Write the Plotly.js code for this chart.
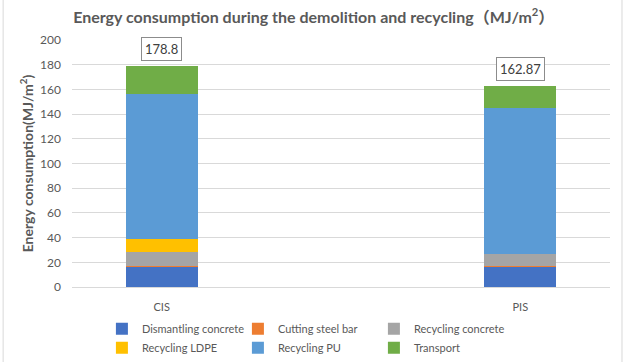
<!DOCTYPE html>
<html><head><meta charset="utf-8">
<script src="https://cdn.plot.ly/plotly-3.0.1.min.js"></script>
<style>html,body{margin:0;padding:0;background:#fff}#chart{width:636px;height:362px}</style>
</head><body><div id="chart"></div>
<script>
const categories = ["CIS", "PIS"];
const seriesNames = ["Dismantling concrete", "Cutting steel bar", "Recycling concrete", "Recycling LDPE", "Recycling PU", "Transport"];
const dismantlingConcrete = [16.5, 16.5];
const cuttingSteelBar = [0.3, 0.3];
const recyclingConcrete = [11.7, 9.7];
const recyclingLDPE = [10.0, 0];
const recyclingPU = [118.0, 118.4];
const transport = [22.3, 17.97];
const colors = ["#4472C4", "#ED7D31", "#A5A5A5", "#FFC000", "#5B9BD5", "#70AD47"];

const seriesValues = [dismantlingConcrete, cuttingSteelBar, recyclingConcrete, recyclingLDPE, recyclingPU, transport];
const font = "Lato, 'Noto Sans CJK SC', sans-serif";

const traces = seriesValues.map((vals, i) => ({
  type: "bar", name: seriesNames[i], x: categories, y: vals, width: 0.2,
  marker: {color: colors[i], line: {width: 0}}, hoverinfo: "skip"
}));

const totals = categories.map((c, j) => seriesValues.reduce((s, v) => s + v[j], 0));
const annotations = categories.map((c, j) => ({
  x: c, y: totals[j], xref: "x", yref: "y", yshift: 17,
  text: String(parseFloat(totals[j].toFixed(2))), showarrow: false,
  font: {family: font, size: 13, color: "#404040"},
  bordercolor: "#8c8c8c", borderwidth: 1, borderpad: 3, bgcolor: "#fff"
}));

const layout = {
  width: 636, height: 362,
  margin: {l: 72, r: 26, t: 40, b: 75, autoexpand: false},
  paper_bgcolor: "#fff", plot_bgcolor: "#fff",
  barmode: "stack",
  font: {family: font, color: "#595959", size: 11},
  title: {text: "Energy consumption during the demolition and recycling（MJ/m<sup>2</sup>）",
    font: {family: font, size: 16, color: "#595959", weight: "bold"},
    x: 0.115, xanchor: "left", xref: "container", y: 0.953, yanchor: "middle", yref: "container"},
  xaxis: {type: "category", range: [-0.25, 1.25], showline: true, linecolor: "#d9d9d9", linewidth: 1,
    ticks: "", showgrid: false, ticklabelstandoff: 10, tickfont: {size: 11, color: "#595959"}, fixedrange: true},
  yaxis: {range: [0, 200], dtick: 20, showgrid: true, gridcolor: "#d9d9d9", gridwidth: 1,
    zeroline: false, showline: false, ticks: "", ticklabelstandoff: 10,
    tickfont: {size: 12, color: "#595959"},
    title: {text: "Energy consumption(MJ/m<sup>2</sup>)", standoff: 3,
      font: {family: font, size: 14, color: "#595959", weight: "bold"}}},
  showlegend: true,
  legend: {orientation: "h", x: 0.0556, xanchor: "left", y: -0.11, yanchor: "top",
    traceorder: "normal", entrywidth: 91, entrywidthmode: "pixels",
    font: {family: font, size: 11, color: "#595959"}, tracegroupgap: 0},
  annotations: annotations,
  shapes: [
    {type: "line", xref: "paper", yref: "paper", x0: 1.0223, x1: 1.0223, y0: -0.4, y1: 1.3, line: {color: "#d9d9d9", width: 1}},
    {type: "line", xref: "paper", yref: "paper", x0: -0.128, x1: -0.128, y0: -0.4, y1: 1.3, line: {color: "#d9d9d9", width: 1}}
  ]
};
Plotly.newPlot("chart", traces, layout, {displayModeBar: false, staticPlot: true});
</script></body></html>
